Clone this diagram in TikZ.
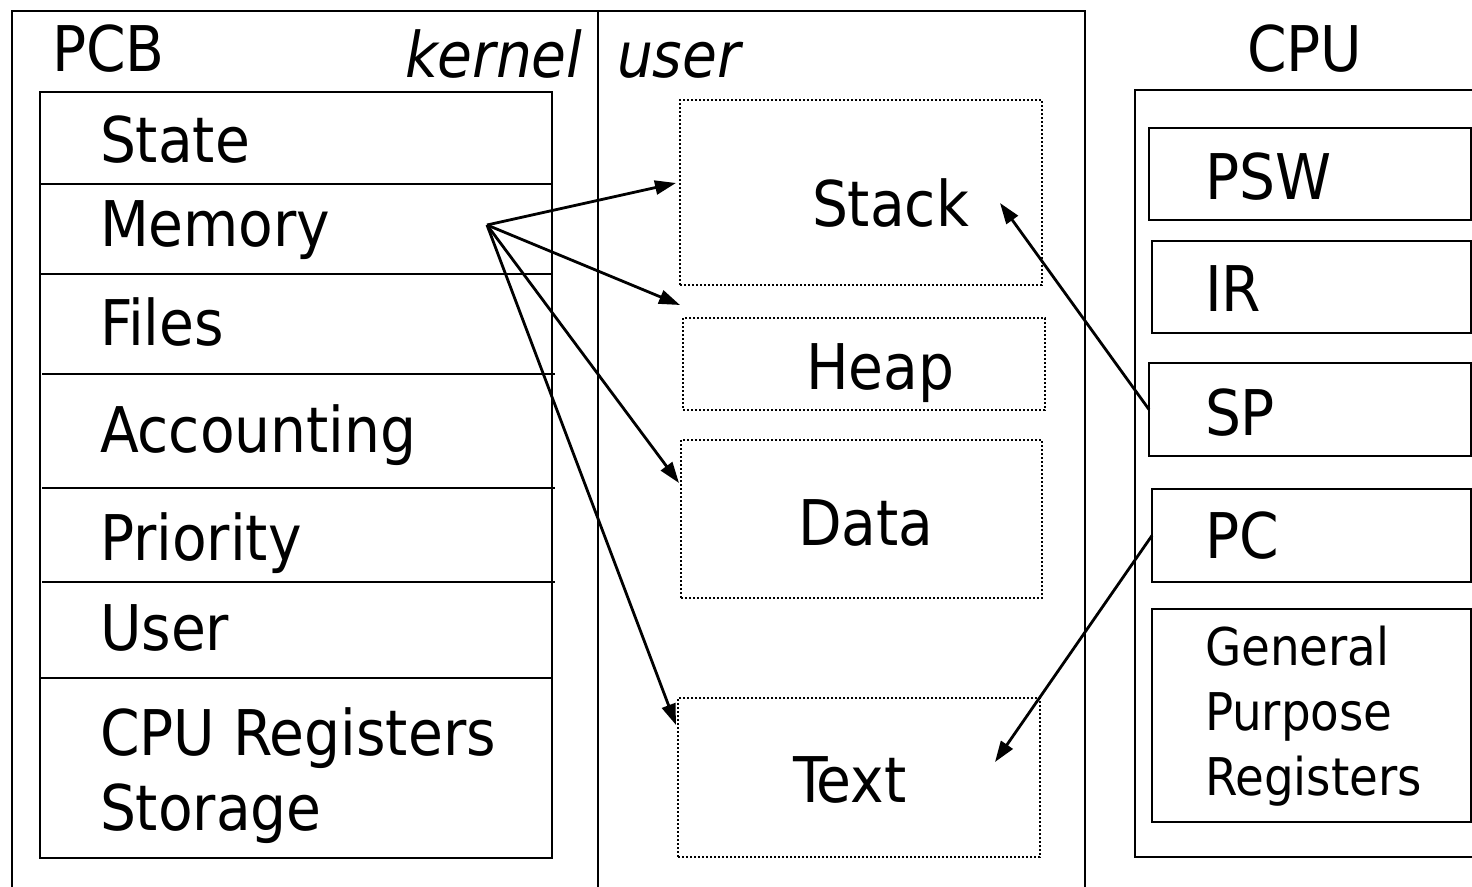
\documentclass[tikz,border=0pt]{standalone}
\usepackage{fontspec}
\setmainfont{DejaVu Sans Condensed}
\usetikzlibrary{arrows.meta}
\newcommand\txtbig{\fontsize{31.5}{37.5}\selectfont}
\newcommand\txtgpr{\fontsize{26}{32.5}\selectfont}
\tikzset{
  frameline/.style={line width=0.9pt},
  solidbox/.style={draw, line width=1.1pt, inner sep=0pt, outer sep=0pt, anchor=north west},
  dotbox/.style={draw, line width=1.1pt, dash pattern=on 1pt off 1pt, inner sep=0pt, outer sep=0pt, anchor=north west},
  rowline/.style={line width=1.1pt},
  lbl/.style={inner sep=0pt, outer sep=0pt, anchor=base west, font=\txtbig},
  gpr/.style={inner sep=0pt, outer sep=0pt, anchor=base west, font=\txtgpr},
  arr/.style={line width=1.4pt, -{Triangle[length=10.5pt,width=7pt]}}
}
\begin{document}
\begin{tikzpicture}[x=0.5pt, y=-0.5pt]
\useasboundingbox (0,0) rectangle (1472,887);
\clip (0,0) rectangle (1472,887);
\fill[white] (0,0) rectangle (1472,887);

% kernel / user frame
\draw[frameline] (12,900) -- (12,11) -- (1085,11) -- (1085,900);
\draw[frameline] (598,11) -- (598,900);

% headings
\node[lbl] (pcbtitle) at (52,72) {PCB};
\node[lbl, font=\txtbig\itshape] (kernel) at (405,78) {kernel};
\node[lbl, font=\txtbig\itshape] (user) at (617,78) {user};
\node[lbl] (cputitle) at (1247,72) {CPU};

% process control block
\node[solidbox, minimum width=256pt, minimum height=383pt] (pcb) at (40,92) {};
\draw[rowline] (40,184) -- (552,184);
\draw[rowline] (40,274) -- (552,274);
\draw[rowline] (42,374) -- (555,374);
\draw[rowline] (42,488) -- (555,488);
\draw[rowline] (42,582) -- (555,582);
\draw[rowline] (40,678) -- (552,678);
\node[lbl] (state) at (100,163) {State};
\node[lbl] (memory) at (100,247) {Memory};
\node[lbl] (files) at (100,346) {Files};
\node[lbl] (accounting) at (100,452) {Accounting};
\node[lbl] (priority) at (100,560) {Priority};
\node[lbl] (usr) at (100,650) {User};
\node[lbl] (cpuregs) at (100,755) {CPU Registers};
\node[lbl] (storage) at (100,830) {Storage};

% user address space
\node[dotbox, minimum width=181pt, minimum height=92.5pt] (stack) at (680,100) {};
\node[dotbox, minimum width=181pt, minimum height=46pt] (heap) at (683,318) {};
\node[dotbox, minimum width=180.5pt, minimum height=79pt] (data) at (681,440) {};
\node[dotbox, minimum width=181pt, minimum height=79.5pt] (text) at (678,698) {};
\node[lbl] (stacklbl) at (812,227) {Stack};
\node[lbl] (heaplbl) at (806,390) {Heap};
\node[lbl] (datalbl) at (798,545) {Data};
\node[lbl] (textlbl) at (793,802) {Text};

% CPU
\draw[rowline] (1490,90) -- (1135,90) -- (1135,857) -- (1490,857);
\node[solidbox, minimum width=161pt, minimum height=46pt] (psw) at (1149,128) {};
\node[solidbox, minimum width=159.5pt, minimum height=46pt] (ir) at (1152,241) {};
\node[solidbox, minimum width=161pt, minimum height=46.5pt] (sp) at (1149,363) {};
\node[solidbox, minimum width=159.5pt, minimum height=46.5pt] (pc) at (1152,489) {};
\node[solidbox, minimum width=159.5pt, minimum height=106.5pt] (gprbox) at (1152,609) {};
\node[lbl] (pswlbl) at (1205,200) {PSW};
\node[lbl] (irlbl) at (1205,312) {IR};
\node[lbl] (splbl) at (1205,436) {SP};
\node[lbl] (pclbl) at (1205,558) {PC};
\node[gpr] (gpr1) at (1205,665) {General};
\node[gpr] (gpr2) at (1205,730) {Purpose};
\node[gpr] (gpr3) at (1205,795) {Registers};

% pointers
\coordinate (memsrc) at (487,225);
\coordinate (tostack) at (676,183);
\coordinate (toheap) at (680,305);
\coordinate (todata) at (679,483);
\coordinate (totext) at (676,725);
\coordinate (spstack) at (1000,203);
\coordinate (pctext) at (995,762);
\draw[arr] (memsrc) -- (tostack);
\draw[arr] (memsrc) -- (toheap);
\draw[arr] (memsrc) -- (todata);
\draw[arr] (memsrc) -- (totext);
\draw[arr] (sp.west) -- (spstack);
\draw[arr] (pc.west) -- (pctext);
\end{tikzpicture}
\end{document}
